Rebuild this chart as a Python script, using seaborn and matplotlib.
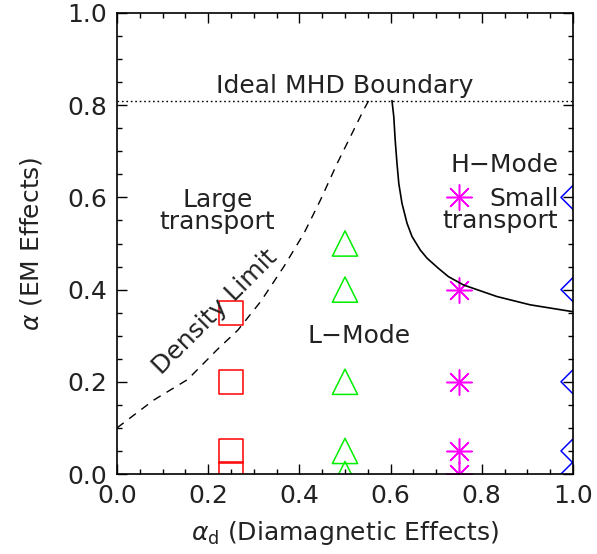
import numpy as np
import pandas as pd
import matplotlib
matplotlib.use("Agg")
import matplotlib.pyplot as plt
import seaborn as sns

# ---- data ----
sq_x = [0.25, 0.25, 0.25, 0.25]
sq_y = [0.0, 0.05, 0.20, 0.35]
tri_x = [0.5, 0.5, 0.5, 0.5, 0.5]
tri_y = [0.0, 0.05, 0.20, 0.40, 0.50]
ast_x = [0.75, 0.75, 0.75, 0.75, 0.75]
ast_y = [0.0, 0.05, 0.20, 0.40, 0.60]
dia_x = [1.0, 1.0, 1.0, 1.0, 1.0]
dia_y = [0.0, 0.05, 0.20, 0.40, 0.60]

dens_x = [0.0, 0.08, 0.155, 0.22, 0.265, 0.315, 0.366, 0.41, 0.446, 0.483, 0.512, 0.541, 0.552]
dens_y = [0.10, 0.16, 0.205, 0.27, 0.312, 0.374, 0.45, 0.522, 0.594, 0.674, 0.732, 0.79, 0.81]

hmode_x = [0.603, 0.607, 0.61, 0.614, 0.618, 0.625, 0.636, 0.647, 0.665, 0.68,
           0.705, 0.727, 0.76, 0.833, 0.906, 1.0]
hmode_y = [0.81, 0.775, 0.725, 0.674, 0.63, 0.587, 0.544, 0.515, 0.486, 0.468,
           0.446, 0.428, 0.41, 0.385, 0.367, 0.352]

mhd_x = [0.0, 1.0]
mhd_y = [0.81, 0.81]

ticks = [0.0, 0.2, 0.4, 0.6, 0.8, 1.0]
tick_labels = ["0.0", "0.2", "0.4", "0.6", "0.8", "1.0"]

# ---- style ----
sns.set_style("white")
plt.rcParams["font.family"] = ["DejaVu Sans"]
plt.rcParams["mathtext.fontset"] = "dejavusans"
FS = 18
TXT = "#222222"

fig = plt.figure(figsize=(5.97, 5.54), dpi=100)
ax = fig.add_axes([117 / 597, 1 - 474 / 554, 456 / 597, 461 / 554])

# curves
sns.lineplot(x=mhd_x, y=mhd_y, ax=ax, color="black", lw=1.0,
             linestyle=(0, (1.2, 2.0)), sort=False, estimator=None)
sns.lineplot(x=dens_x, y=dens_y, ax=ax, color="black", lw=1.0,
             linestyle=(0, (6, 5)), sort=False, estimator=None)
sns.lineplot(x=hmode_x, y=hmode_y, ax=ax, color="black", lw=1.2,
             sort=False, estimator=None)

# markers
sns.scatterplot(x=sq_x, y=sq_y, ax=ax, marker="s", s=300, color="#ff0000",
                facecolor="none", edgecolor="#ff0000", linewidth=1.1)
sns.scatterplot(x=tri_x, y=tri_y, ax=ax, marker="^", s=330, color="#00ee00",
                facecolor="none", edgecolor="#00ee00", linewidth=1.1)
sns.scatterplot(x=ast_x, y=ast_y, ax=ax, marker=(8, 2, 0), s=330,
                color="#ff00ff", linewidth=1.1)
sns.scatterplot(x=dia_x, y=dia_y, ax=ax, marker="D", s=150, color="#0000ff",
                facecolor="none", edgecolor="#0000ff", linewidth=1.1)

ax.set_xlim(0, 1)
ax.set_ylim(0, 1)

# annotations
ax.text(0.5, 0.815, "Ideal MHD Boundary", ha="center", va="bottom",
        fontsize=FS, color=TXT)
ax.text(0.22, 0.57, "Large\ntransport", ha="center", va="center",
        fontsize=FS, color=TXT, linespacing=0.9)
ax.text(0.968, 0.67, "H\u2212Mode", ha="right", va="center",
        fontsize=FS, color=TXT)
ax.text(0.968, 0.573, "Small\ntransport", ha="right", va="center",
        fontsize=FS, color=TXT, linespacing=0.9)
ax.text(0.53, 0.30, "L\u2212Mode", ha="center", va="center",
        fontsize=FS, color=TXT)
ax.text(0.215, 0.352, "Density Limit", ha="center", va="center",
        rotation=45, rotation_mode="anchor", fontsize=FS, color=TXT)

# axes cosmetics
ax.set_xticks(ticks)
ax.set_xticklabels(tick_labels)
ax.set_yticks(ticks)
ax.set_yticklabels(tick_labels)
ax.set_xticks(np.arange(0, 1.0001, 0.05), minor=True)
ax.set_yticks(np.arange(0, 1.0001, 0.05), minor=True)
ax.tick_params(which="both", direction="in", top=True, right=True,
               bottom=True, left=True, color="black", width=1.0)
ax.tick_params(which="major", length=7, labelsize=FS, labelcolor=TXT, pad=7)
ax.tick_params(which="minor", length=3.5)
for sp in ax.spines.values():
    sp.set_color("black")
    sp.set_linewidth(1.2)

ax.set_xlabel(r"$\alpha_{\rm d}$ (Diamagnetic Effects)", fontsize=FS,
              color=TXT, labelpad=8)
ax.set_ylabel(r"$\alpha$ (EM Effects)", fontsize=FS, color=TXT, labelpad=17)

fig.savefig("out.png", dpi=100)
